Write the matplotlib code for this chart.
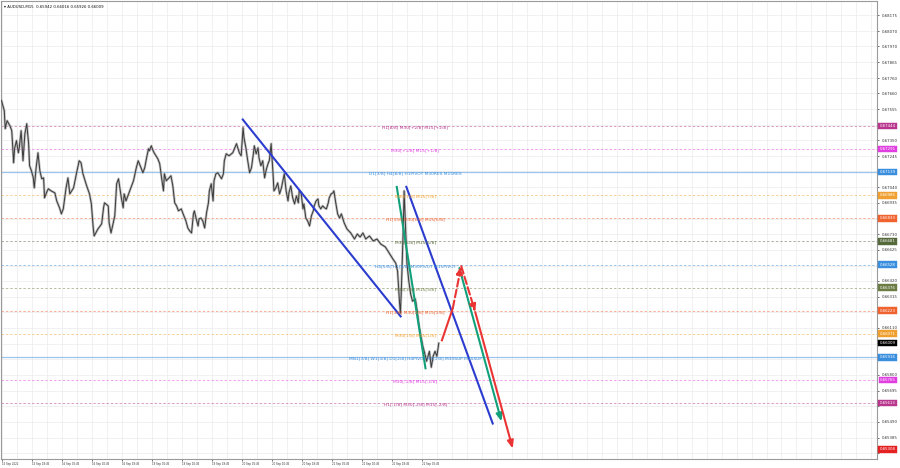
import matplotlib
matplotlib.use('Agg')
import matplotlib.pyplot as plt
import matplotlib.transforms as mtransforms

# ---------------- data ----------------
symbol_title = "AUDUSD,M15  0.65942 0.66016 0.65926 0.66009"

bars = [0,3,4,6,9,11,13,14,16,18,19,21,23,25,27,29,30,32,34,35,37,39,41,43,45,46,48,50,53,57,
        59,62,64,66,69,71,73,77,80,83,85,87,91,94,96,98,99,103,107,109,110,114,115,117,121,123,125,128,130,131,
        133,137,141,144,146,149,151,153,155,157,158,160,162,163,167,169,171,173,174,176,179,181,183,185,187,189,192,194,197,199,
        201,203,205,206,208,210,211,213,215,217,219,221,222,224,226,227,229,231,235,237,238,240,243,247,251,254,256,258,259,261,
        263,265,267,269,270,272,274,275,277,279,281,283,285,286,288,290,291,293,295,297,299,301,302,304,306,307,309,311,313,315,
        317,318,320,322,323,325,327,329,331,333,334,336,338,339,341,343,345,347,349,350,352,354,355,357,359,361,363,366,369,373,
        377,380,383,386,389,393,397,401,405,410,414,418,421,423,425,426,427,429,430,431,433,435,437,439,442,444,446,448,450,452,
        454,457,459,461,463,465,467]

close = [.67612,.67545,.67426,.67479,.67446,.67413,.67201,.67294,.67347,.67267,
         .67300,.67413,.67214,.67393,.67459,.67327,.67181,.67148,.67101,.67035,
         .67168,.67267,.67148,.67095,.67101,.66969,.67002,.67029,.67015,.67002,
         .66949,.66903,.66863,.66896,.67035,.67101,.66995,.67035,.67128,.67214,
         .67201,.67128,.67048,.66995,.66929,.66770,.66717,.66763,.66797,.66903,
         .66936,.66916,.66803,.66737,.66850,.67062,.67095,.66969,.66903,.66995,
         .66949,.67015,.67082,.67168,.67214,.67168,.67135,.67168,.67234,.67294,
         .67280,.67313,.67280,.67267,.67227,.67194,.67101,.67015,.67128,.67082,
         .67101,.67115,.67048,.66936,.66916,.66883,.66896,.66863,.66816,.66770,
         .66750,.66737,.66863,.66883,.66830,.66783,.66830,.66836,.66816,.66770,
         .66870,.66936,.67015,.67062,.66949,.67082,.67128,.67135,.67095,.67128,
         .67214,.67260,.67247,.67267,.67327,.67267,.67247,.67433,.67367,.67300,
         .67214,.67135,.67168,.67260,.67313,.67260,.67300,.67234,.67181,.67214,
         .67101,.67161,.67201,.67214,.67327,.67128,.67015,.67035,.67068,.66995,
         .67035,.67095,.67128,.67015,.66949,.67002,.67048,.66969,.66929,.66982,
         .66936,.67015,.67002,.66896,.66929,.66836,.66816,.66783,.66850,.66883,
         .66916,.66949,.66962,.66916,.66896,.66916,.66903,.66896,.66936,.66969,
         .66995,.67002,.67015,.66936,.66863,.66836,.66863,.66803,.66763,.66737,
         .66697,.66730,.66710,.66737,.66697,.66717,.66684,.66697,.66664,.66644,
         .66604,.66565,.66538,.66485,.66286,.66207,.66353,.66750,.67015,.66850,
         .66538,.66419,.66333,.66286,.66300,.66220,.66121,.66054,.65988,.65942,
         .65889,.65955,.65849,.65922,.65955,.65922,.66008]

time_tick_bars = [1,33,65,97,129,161,193,225,257,289,321,353,385,417,449]
time_labels = ["15 Sep 2022","15 Sep 18:45","16 Sep 02:45","16 Sep 10:45","16 Sep 18:45",
               "19 Sep 02:45","19 Sep 10:45","19 Sep 18:45","20 Sep 02:45","20 Sep 10:45",
               "20 Sep 18:45","21 Sep 02:45","21 Sep 10:45","21 Sep 18:45","22 Sep 02:45"]

price_ticks = [0.68175,0.68070,0.67970,0.67865,0.67760,0.67660,0.67555,0.67450,0.67350,0.67245,
               0.67145,0.67040,0.66935,0.66830,0.66730,0.66625,0.66520,0.66420,0.66315,0.66215,
               0.66110,0.66005,0.65905,0.65800,0.65695,0.65595,0.65490,0.65385,0.65285]
hidden_ticks = [0.67450,0.67145,0.66830,0.66520,0.66215,0.66005,0.65905,0.65595,0.65285]

level_prices = [0.67444,0.67291,0.67139,0.66986,0.66833,0.66681,0.66528,0.66376,0.66223,0.66071,0.65916,0.65765,0.65613]
level_names = ["H1[8/8] M30[+2/8] M15[+2/8]", "M30[+1/8] M15[+1/8]",
               "D1[3/8] H4[8/8] H1PIVOT M30RES M15RES", "M30[7/8] M15[7/8]",
               "H1[5/8] M30[6/8] M15[6/8]", "M30[5/8] M15[5/8]",
               "H4[5/8] H1[4/8] M30PIVOT M15PIVOT", "M30[3/8] M15[3/8]",
               "H1[3/8] M30[2/8] M15[2/8]", "M30[1/8] M15[1/8]",
               "MN1[3/8] W1[3/8] D1[2/8] H4PIVOT H1[2/8] M30SUP M15SUP",
               "M30[-1/8] M15[-1/8]", "H1[-1/8] M30[-2/8] M15[-2/8]"]
level_colors = ['#b8368e','#e03ee0','#3a8ede','#f0a030','#f0622e','#55693a','#3a8ede',
                '#6b7c45','#f0622e','#f0a030','#3a8ede','#e03ee0','#b8368e']
level_solid = [False,False,True,False,False,False,False,False,False,False,True,False,False]

current_price = 0.66009
target_price = 0.65308

blue1_bars, blue1_prices = [257, 427], [0.67492, 0.66180]
blue2_bars, blue2_prices = [432, 525], [0.67048, 0.65471]
green1_bars, green1_prices = [422, 453], [0.67048, 0.65836]
green2_bars, green2_prices = [489, 534], [0.66505, 0.65491]
red_bars = [470, 482, 491, 506, 546]
red_prices = [0.66021, 0.66240, 0.66518, 0.66213, 0.65312]

# ---------------- figure ----------------
W, H = 900, 468
fig = plt.figure(figsize=(W/100, H/100), dpi=100)
fig.patch.set_facecolor('white')
ax = fig.add_axes([1/W, 9/H, 876/W, 458/H])
ax.set_xlim(-0.5, 935)
ax.set_ylim(0.65243, 0.68270)
ax.set_facecolor('white')

# grid
for b in range(1, 935, 16):
    ax.axvline(b, color='#ebebeb', lw=0.5, zorder=0)
for p in price_ticks:
    ax.axhline(p, color='#ebebeb', lw=0.5, zorder=0)

# level lines and labels
label_bar = 442
for p, name, c, solid in zip(level_prices, level_names, level_colors, level_solid):
    if solid:
        ax.axhline(p, color=c, lw=0.9, alpha=0.5, zorder=1)
    else:
        ax.axhline(p, color=c, lw=0.7, alpha=0.5, dashes=(2.5, 2.0), zorder=1)
    ax.annotate(name, xy=(label_bar, p), xytext=(0, -1.0), textcoords='offset points',
                ha='center', va='center', fontsize=3.2, color=c, zorder=5)

# price series (candle-like)
ax.plot(bars, close, color='#a8a8a8', lw=1.8, alpha=0.75, zorder=2)
ax.plot(bars, close, color='#3a3a3a', lw=0.7, zorder=3)

# trend lines
blue = '#2b3ccf'
green = '#12a07a'
red = '#ea3434'
ax.plot(blue1_bars, blue1_prices, color=blue, lw=1.5, zorder=4, solid_capstyle='butt')
ax.plot(blue2_bars, blue2_prices, color=blue, lw=1.5, zorder=4, solid_capstyle='butt')
ax.plot(green1_bars, green1_prices, color=green, lw=1.5, zorder=4, solid_capstyle='butt')
ax.annotate('', xy=(green2_bars[1], green2_prices[1]), xytext=(green2_bars[0], green2_prices[0]),
            arrowprops=dict(arrowstyle='-|>,head_length=0.45,head_width=0.18', color=green, lw=1.5,
                            shrinkA=0, shrinkB=0), zorder=4)
# red path
ax.plot(red_bars[0:2], red_prices[0:2], color=red, lw=1.5, zorder=4, solid_capstyle='butt')
for i, ls in [(1, '--'), (2, '--'), (3, '-')]:
    ax.annotate('', xy=(red_bars[i+1], red_prices[i+1]), xytext=(red_bars[i], red_prices[i]),
                arrowprops=dict(arrowstyle='-|>,head_length=0.45,head_width=0.18', color=red, lw=1.5,
                                linestyle=ls, shrinkA=0, shrinkB=0), zorder=4)

# axes: ticks
ax.yaxis.tick_right()
ax.set_yticks(price_ticks)
ax.set_yticklabels(['' if p in hidden_ticks else f'{p:.5f}' for p in price_ticks])
ax.tick_params(axis='y', labelsize=2.8, colors='#333333', length=1.5, width=0.5, pad=2.0)
ax.set_xticks(time_tick_bars)
ax.set_xticklabels(time_labels)
for lbl in ax.get_xticklabels():
    lbl.set_horizontalalignment('left')
ax.tick_params(axis='x', labelsize=1.9, colors='#333333', length=1.5, width=0.5, pad=1.0)
for s in ax.spines.values():
    s.set_color('#9a9a9a')
    s.set_linewidth(0.8)

# right-axis colored price boxes
trans = mtransforms.blended_transform_factory(ax.transAxes, ax.transData)
box_specs = list(zip(level_prices, level_colors)) + [(current_price, '#000000'), (target_price, '#e52222')]
for p, c in box_specs:
    ax.text(1.0123, p, f'{p:.5f}', transform=trans, ha='center', va='center', fontsize=2.8,
            color='white', clip_on=False, zorder=10,
            bbox=dict(boxstyle='square,pad=0.35', facecolor=c, edgecolor=c, lw=0.3))

# title
ax.text(0.003, 0.992, '\u25be ' + symbol_title, transform=ax.transAxes, ha='left', va='top',
        fontsize=2.8, color='#111111')

fig.savefig('out.png', dpi=100, facecolor='white')
